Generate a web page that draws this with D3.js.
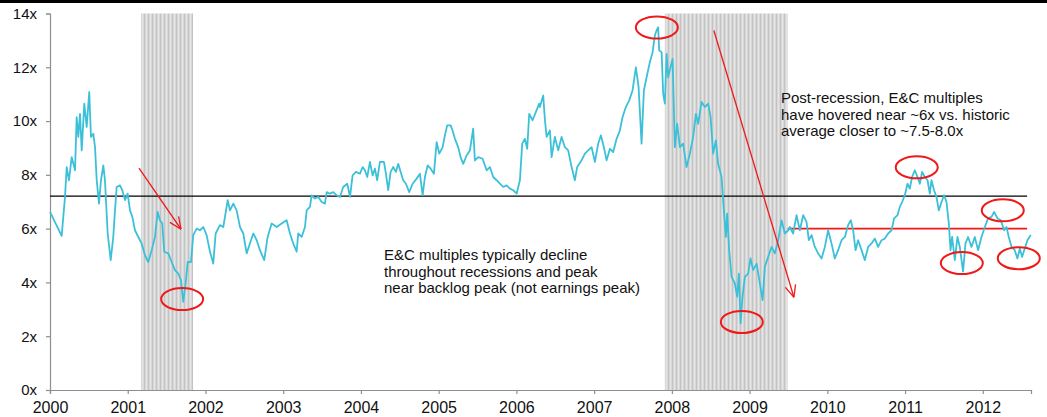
<!DOCTYPE html>
<html>
<head>
<meta charset="utf-8">
<script src="https://cdn.jsdelivr.net/npm/d3@7/dist/d3.min.js"></script>
<style>
  html, body { margin: 0; padding: 0; background: #fff; }
  svg { display: block; font-family: "Liberation Sans", Arial, sans-serif; }
</style>
</head>
<body>
<svg id="chart" width="1047" height="417"></svg>
<script>
// E&C forward P/E multiple, 2000 - mid 2012 (decimal year, multiple)
const years = [
  2000.000, 2000.150, 2000.171, 2000.193, 2000.215, 2000.244, 2000.279, 2000.322, 2000.343, 2000.364,
  2000.386, 2000.408, 2000.441, 2000.472, 2000.505, 2000.527, 2000.557, 2000.579, 2000.601, 2000.630,
  2000.656, 2000.686, 2000.707, 2000.742, 2000.781, 2000.814, 2000.836, 2000.858, 2000.900, 2000.930,
  2000.965, 2000.999, 2001.029, 2001.059, 2001.093, 2001.136, 2001.179, 2001.222, 2001.264, 2001.308,
  2001.350, 2001.385, 2001.415, 2001.444, 2001.470, 2001.522, 2001.565, 2001.608, 2001.650, 2001.685,
  2001.714, 2001.745, 2001.771, 2001.814, 2001.843, 2001.887, 2001.929, 2001.972, 2002.015, 2002.058,
  2002.100, 2002.131, 2002.186, 2002.229, 2002.286, 2002.315, 2002.358, 2002.401, 2002.444, 2002.486,
  2002.530, 2002.572, 2002.615, 2002.659, 2002.701, 2002.756, 2002.800, 2002.851, 2002.916, 2002.980,
  2003.044, 2003.087, 2003.129, 2003.173, 2003.193, 2003.237, 2003.280, 2003.302, 2003.344, 2003.366,
  2003.408, 2003.451, 2003.495, 2003.537, 2003.559, 2003.601, 2003.644, 2003.687, 2003.730, 2003.772,
  2003.824, 2003.859, 2003.893, 2003.936, 2003.987, 2004.022, 2004.051, 2004.081, 2004.116, 2004.150,
  2004.180, 2004.209, 2004.244, 2004.296, 2004.322, 2004.351, 2004.382, 2004.415, 2004.450, 2004.480,
  2004.511, 2004.544, 2004.579, 2004.621, 2004.665, 2004.716, 2004.759, 2004.794, 2004.823, 2004.858,
  2004.897, 2004.939, 2004.974, 2005.007, 2005.051, 2005.080, 2005.110, 2005.154, 2005.179, 2005.209,
  2005.251, 2005.282, 2005.316, 2005.359, 2005.402, 2005.444, 2005.466, 2005.509, 2005.565, 2005.617,
  2005.659, 2005.702, 2005.745, 2005.788, 2005.830, 2005.874, 2005.916, 2005.959, 2006.003, 2006.045,
  2006.075, 2006.109, 2006.139, 2006.165, 2006.208, 2006.251, 2006.293, 2006.302, 2006.345, 2006.367,
  2006.389, 2006.431, 2006.453, 2006.495, 2006.538, 2006.581, 2006.624, 2006.666, 2006.710, 2006.752,
  2006.782, 2006.839, 2006.881, 2006.923, 2006.967, 2007.010, 2007.052, 2007.087, 2007.125, 2007.160,
  2007.203, 2007.245, 2007.289, 2007.331, 2007.366, 2007.408, 2007.451, 2007.494, 2007.537, 2007.572,
  2007.610, 2007.640, 2007.675, 2007.717, 2007.752, 2007.781, 2007.803, 2007.824, 2007.837, 2007.868,
  2007.888, 2007.910, 2007.932, 2007.952, 2007.983, 2008.009, 2008.039, 2008.068, 2008.103, 2008.145,
  2008.189, 2008.232, 2008.274, 2008.309, 2008.338, 2008.382, 2008.424, 2008.467, 2008.498, 2008.531,
  2008.566, 2008.595, 2008.639, 2008.669, 2008.695, 2008.711, 2008.737, 2008.768, 2008.810, 2008.840,
  2008.862, 2008.884, 2008.909, 2008.939, 2008.981, 2009.012, 2009.046, 2009.090, 2009.132, 2009.167,
  2009.196, 2009.239, 2009.282, 2009.325, 2009.367, 2009.411, 2009.453, 2009.496, 2009.518, 2009.560,
  2009.604, 2009.646, 2009.689, 2009.732, 2009.762, 2009.797, 2009.839, 2009.882, 2009.926, 2009.968,
  2010.010, 2010.054, 2010.096, 2010.139, 2010.183, 2010.225, 2010.267, 2010.302, 2010.332, 2010.363,
  2010.396, 2010.440, 2010.482, 2010.525, 2010.569, 2010.611, 2010.653, 2010.697, 2010.740, 2010.782,
  2010.826, 2010.859, 2010.903, 2010.932, 2010.962, 2010.997, 2011.031, 2011.061, 2011.090, 2011.125,
  2011.160, 2011.190, 2011.219, 2011.254, 2011.289, 2011.318, 2011.340, 2011.373, 2011.404, 2011.434,
  2011.469, 2011.502, 2011.533, 2011.563, 2011.585, 2011.605, 2011.640, 2011.674, 2011.704, 2011.746,
  2011.777, 2011.811, 2011.854, 2011.897, 2011.939, 2011.983, 2012.026, 2012.068, 2012.112, 2012.145,
  2012.189, 2012.231, 2012.274, 2012.305, 2012.334, 2012.370, 2012.411, 2012.445, 2012.476, 2012.505,
  2012.540, 2012.574, 2012.617
];
const multiples = [
  6.62, 5.73, 6.44, 7.18, 8.29, 7.80, 8.66, 8.17, 10.15, 9.41,
  10.27, 8.91, 10.65, 9.78, 11.08, 9.41, 9.53, 9.03, 7.80, 6.93,
  7.80, 8.35, 7.80, 5.82, 4.83, 5.69, 6.68, 7.55, 7.61, 7.43,
  7.06, 7.30, 6.68, 6.44, 5.94, 5.69, 5.45, 5.01, 4.76, 5.20,
  5.69, 6.62, 6.31, 6.19, 5.14, 5.08, 4.76, 4.46, 4.33, 4.08,
  3.28, 3.96, 4.76, 4.76, 5.76, 6.00, 5.94, 6.06, 5.76, 5.14,
  4.70, 5.82, 6.13, 6.06, 7.06, 6.68, 6.93, 6.68, 6.06, 5.82,
  5.08, 5.45, 5.82, 5.57, 5.20, 4.83, 5.69, 6.19, 6.06, 6.19,
  6.31, 5.82, 5.45, 5.14, 5.82, 5.69, 6.06, 6.68, 6.81, 7.24,
  7.12, 7.18, 6.99, 6.93, 7.36, 7.30, 7.36, 7.24, 7.18, 7.55,
  7.67, 7.18, 7.98, 8.11, 8.04, 8.29, 8.17, 7.92, 8.48, 7.98,
  8.23, 7.80, 8.48, 8.48, 8.04, 7.43, 8.11, 8.29, 8.11, 8.41,
  8.11, 7.80, 7.67, 7.36, 7.67, 7.86, 8.04, 7.24, 7.92, 8.35,
  8.23, 8.04, 9.22, 8.79, 9.03, 9.47, 9.84, 9.84, 9.65, 9.34,
  9.03, 8.66, 8.41, 8.72, 8.91, 9.72, 8.54, 8.66, 8.60, 8.17,
  8.29, 7.92, 7.80, 7.67, 7.55, 7.61, 7.49, 7.43, 7.30, 7.80,
  9.16, 9.34, 8.97, 10.27, 10.03, 10.34, 10.65, 10.52, 10.95, 10.03,
  9.41, 9.65, 8.66, 9.41, 8.91, 9.41, 9.03, 8.91, 8.29, 7.80,
  8.29, 8.54, 8.79, 8.91, 9.03, 8.48, 9.16, 9.47, 9.03, 8.54,
  8.97, 8.85, 9.34, 9.65, 10.15, 10.52, 10.77, 11.14, 12.00, 11.26,
  9.16, 11.14, 11.63, 12.19, 12.56, 13.18, 13.37, 13.49, 12.63, 12.56,
  11.02, 10.65, 12.50, 11.63, 12.00, 12.31, 9.03, 9.90, 9.03, 9.16,
  8.29, 8.79, 9.41, 10.27, 9.90, 10.71, 10.52, 10.65, 10.15, 8.79,
  9.28, 8.41, 7.92, 6.68, 5.69, 6.56, 5.20, 4.21, 3.96, 3.47,
  4.33, 2.48, 3.47, 4.21, 4.33, 4.89, 4.46, 4.70, 3.96, 3.34,
  4.58, 4.95, 5.32, 5.08, 5.57, 6.31, 5.82, 5.94, 6.06, 5.82,
  6.50, 5.94, 6.50, 6.25, 5.57, 5.76, 5.32, 5.08, 4.89, 5.32,
  5.94, 5.45, 4.89, 5.20, 5.57, 5.69, 6.13, 6.31, 5.94, 5.20,
  5.57, 5.20, 4.83, 5.32, 5.45, 5.63, 5.32, 5.57, 5.63, 5.82,
  5.94, 6.38, 6.50, 6.81, 6.99, 7.24, 7.67, 7.49, 7.92, 8.17,
  7.92, 7.67, 8.11, 7.92, 7.80, 7.30, 7.80, 7.43, 7.18, 6.68,
  6.99, 7.24, 6.99, 6.19, 5.20, 5.69, 4.83, 5.69, 5.32, 4.40,
  5.45, 5.69, 5.32, 5.69, 5.20, 5.69, 6.06, 6.38, 6.44, 6.62,
  6.38, 6.31, 5.94, 6.06, 5.69, 5.32, 5.20, 4.89, 5.26, 4.95,
  5.26, 5.57, 5.76
];

// Recession periods (start, end), decimal years
const recessions = [[2001.17, 2001.84], [2007.91, 2009.49]];

// Reference levels
const historicAverage = 7.21;
const postRecessionLevel = 6.0;
const postRecessionStart = 2009.49;
const referenceEnd = 2012.57;

// Axis ticks
const xTicks = [2000, 2001, 2002, 2003, 2004, 2005, 2006, 2007, 2008, 2009, 2010, 2011, 2012];
const yTicks = [0, 2, 4, 6, 8, 10, 12, 14];

// Highlighted turning points (decimal year, multiple)
const circleYears = [2001.70, 2007.807, 2008.90, 2011.15, 2012.257, 2011.73, 2012.463];
const circleValues = [3.38, 13.48, 2.53, 8.28, 6.68, 4.72, 4.90];

// Trend arrows: [start year, start value, end year, end value]
const arrows = [
  [2001.145, 8.25, 2001.685, 5.98],
  [2008.54, 13.37, 2009.57, 3.45]
];

const noteLeft = [
  "E&C multiples typically decline",
  "throughout recessions and peak",
  "near backlog peak (not earnings peak)"
];
const noteRight = [
  "Post-recession, E&C multiples",
  "have hovered near ~6x vs. historic",
  "average closer to ~7.5-8.0x"
];

const svg = d3.select("#chart");
const W = 1047, H = 417;
const font = "'Liberation Sans', Arial, sans-serif";

const x = d3.scaleLinear().domain([2000, 2012.62]).range([50, 1031]);
const y = d3.scaleLinear().domain([0, 14]).range([390, 13.5]);

// top rule
svg.append("rect").attr("x", 0).attr("y", 0).attr("width", W).attr("height", 3).attr("fill", "#000");

// striped fill for recession bands
const defs = svg.append("defs");
const pat = defs.append("pattern")
  .attr("id", "recStripes")
  .attr("patternUnits", "userSpaceOnUse")
  .attr("width", 4).attr("height", 10);
pat.append("rect").attr("width", 4).attr("height", 10).attr("fill", "#d8d8d8");
pat.append("rect").attr("x", 0).attr("width", 1).attr("height", 10).attr("fill", "#c3c3c3");
pat.append("rect").attr("x", 2).attr("width", 1).attr("height", 10).attr("fill", "#e4e4e4");

svg.append("g").selectAll("rect")
  .data(recessions)
  .join("rect")
  .attr("x", d => x(d[0]))
  .attr("y", y(14))
  .attr("width", d => x(d[1]) - x(d[0]))
  .attr("height", y(0) - y(14))
  .attr("fill", "url(#recStripes)");

// axes
const axisColor = "#8f8f8f";
const yAxis = svg.append("g")
  .attr("transform", `translate(${x(2000)},0)`)
  .call(d3.axisLeft(y).tickValues(yTicks).tickSize(4).tickPadding(9).tickFormat(d => d + "x"));
const xAxis = svg.append("g")
  .attr("transform", `translate(0,${y(0)})`)
  .call(d3.axisBottom(x).tickValues(xTicks).tickSize(4).tickPadding(8).tickFormat(d3.format("d")));
[yAxis, xAxis].forEach(g => {
  g.select(".domain").attr("stroke", axisColor).attr("stroke-width", 1.2);
  g.selectAll(".tick line").attr("stroke", axisColor).attr("stroke-width", 1.2);
  g.selectAll(".tick text").attr("fill", "#111").attr("font-family", font);
});
yAxis.selectAll(".tick text").attr("font-size", 15);
xAxis.selectAll(".tick text").attr("font-size", 16);

// historic average
svg.append("line")
  .attr("x1", x(2000)).attr("x2", x(referenceEnd))
  .attr("y1", y(historicAverage)).attr("y2", y(historicAverage))
  .attr("stroke", "#000").attr("stroke-width", 1.3);

// post-recession level
svg.append("line")
  .attr("x1", x(postRecessionStart)).attr("x2", x(referenceEnd))
  .attr("y1", y(postRecessionLevel)).attr("y2", y(postRecessionLevel))
  .attr("stroke", "#f01818").attr("stroke-width", 1.8);

// multiple series
const line = d3.line().x((d, i) => x(years[i])).y(d => y(d));
svg.append("path")
  .datum(multiples)
  .attr("d", line)
  .attr("fill", "none")
  .attr("stroke", "#3cc0d8")
  .attr("stroke-width", 1.8)
  .attr("stroke-linejoin", "round");

// arrows
const red = "#f01818";
arrows.forEach(a => {
  const x1 = x(a[0]), y1 = y(a[1]), x2 = x(a[2]), y2 = y(a[3]);
  svg.append("line").attr("x1", x1).attr("y1", y1).attr("x2", x2).attr("y2", y2)
    .attr("stroke", red).attr("stroke-width", 1.3);
  const ang = Math.atan2(y2 - y1, x2 - x1);
  const len = 13, spread = 0.42;
  [ang + Math.PI - spread, ang + Math.PI + spread].forEach(t => {
    svg.append("line")
      .attr("x1", x2).attr("y1", y2)
      .attr("x2", x2 + len * Math.cos(t)).attr("y2", y2 + len * Math.sin(t))
      .attr("stroke", red).attr("stroke-width", 1.3);
  });
});

// highlight rings
svg.append("g").selectAll("ellipse")
  .data(circleYears)
  .join("ellipse")
  .attr("cx", d => x(d))
  .attr("cy", (d, i) => y(circleValues[i]))
  .attr("rx", 21).attr("ry", 11)
  .attr("fill", "none").attr("stroke", red).attr("stroke-width", 2);

// notes
function note(lines, x0, yTop) {
  const t = svg.append("text")
    .attr("font-size", 15).attr("fill", "#111")
    .attr("font-family", font);
  lines.forEach((s, i) => t.append("tspan").attr("x", x0).attr("y", yTop + i * 16.7).text(s));
}
note(noteLeft, 384, 260);
note(noteRight, 781, 103);
</script>
</body>
</html>
